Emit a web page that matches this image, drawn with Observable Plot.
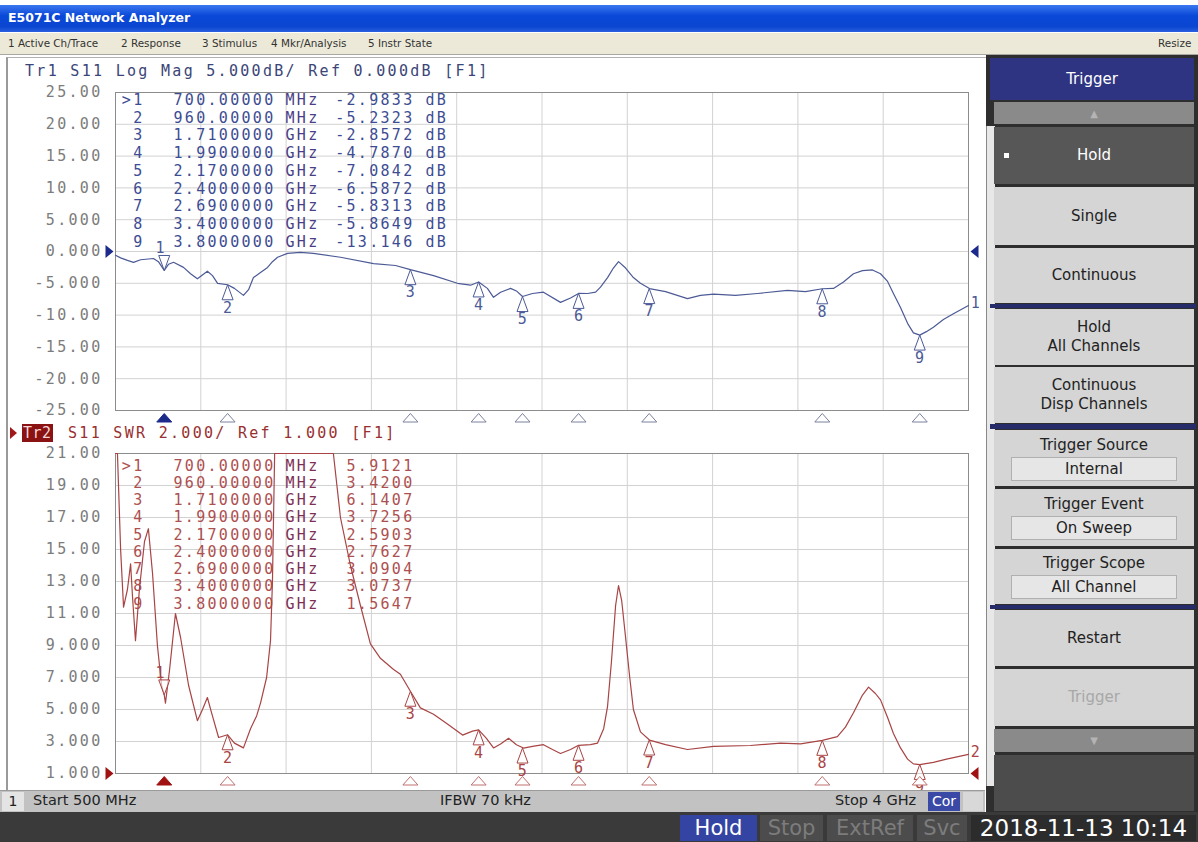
<!DOCTYPE html>
<html>
<head>
<meta charset="utf-8">
<script src="https://cdn.jsdelivr.net/npm/d3@7"></script>
<script src="https://cdn.jsdelivr.net/npm/@observablehq/plot@0.6"></script>
<style>
  html, body { margin: 0; padding: 0; }
  body { width: 1198px; height: 842px; position: relative; overflow: hidden; background: #ffffff; font-family: "DejaVu Sans", sans-serif; }
  .abs { position: absolute; }
  .mono { font-family: "DejaVu Sans Mono", monospace; font-size: 15px; letter-spacing: 2.3px; white-space: pre; }
  .menu { position: absolute; top: 37px; font-size: 10.4px; color: #333; white-space: nowrap; }
  .stat { position: absolute; top: 792px; font-size: 14.5px; color: #222; white-space: nowrap; }
  .btn { position: absolute; left: 994px; width: 200px; background: #d5d5d5; color: #222; display: flex; flex-direction: column; align-items: center; justify-content: center; font-size: 15px; line-height: 19px; text-align: center; }
  .sep { position: absolute; left: 990px; width: 206px; background: #262c6a; }
  .field { width: 164px; height: 22px; background: #e6e6e6; border: 1px solid #b0b0b0; line-height: 22px; margin-top: 2px; }
  .sb { position: absolute; top: 815px; height: 26px; line-height: 26px; font-size: 21px; text-align: center; }
</style>
</head>
<body>
<!-- window title bar -->
<div class="abs" style="left:0;top:5px;width:1198px;height:27px;background:linear-gradient(#3a78f0,#0a48d8 40%,#0a46d0 80%,#2a60e0);"></div>
<div class="abs" style="left:8px;top:10px;color:#fff;font-weight:bold;font-size:12.5px;">E5071C Network Analyzer</div>
<!-- menu bar -->
<div class="abs" style="left:0;top:33px;width:1198px;height:21px;background:#ece9d8;border-bottom:1px solid #a8a8a0;"></div>
<div class="menu" style="left:8px;">1 Active Ch/Trace</div>
<div class="menu" style="left:121px;">2 Response</div>
<div class="menu" style="left:202px;">3 Stimulus</div>
<div class="menu" style="left:271px;">4 Mkr/Analysis</div>
<div class="menu" style="left:368px;">5 Instr State</div>
<div class="menu" style="left:1158px;">Resize</div>

<!-- chart panel -->
<div class="abs" style="left:6px;top:57px;width:978px;height:733px;border-left:2px solid #9a9a9a;border-right:2px solid #6a6a6a;border-top:1px solid #b0b0b0;background:#fff;"></div>
<div class="abs mono" style="left:25px;top:62px;color:#3b4577;">Tr1 S11 Log Mag 5.000dB/ Ref 0.000dB [F1]</div>
<div class="abs" style="left:10px;top:427px;width:0;height:0;border-top:6px solid transparent;border-bottom:6px solid transparent;border-left:7px solid #a01818;"></div>
<div class="abs mono" style="left:22px;top:424px;background:#8a1212;color:#f4d8d8;padding:0 1px;letter-spacing:0.5px;">Tr2</div>
<div class="abs mono" style="left:68px;top:424px;color:#983030;">S11 SWR 2.000/ Ref 1.000 [F1]</div>
<div id="top" class="abs" style="left:0;top:82px;"></div>
<div id="bot" class="abs" style="left:0;top:445px;"></div>

<!-- status bar -->
<div class="abs" style="left:0;top:790px;width:985px;height:22px;background:#c2c2c2;border-top:1px solid #9a9a9a;"></div>
<div class="abs" style="left:2px;top:792px;width:22px;height:19px;background:#e4e4e4;font-size:14px;line-height:19px;text-align:center;color:#222;">1</div>
<div class="stat" style="left:33px;">Start 500 MHz</div>
<div class="stat" style="left:440px;">IFBW 70 kHz</div>
<div class="stat" style="left:835px;">Stop 4 GHz</div>
<div class="abs" style="left:928px;top:792px;width:32px;height:19px;background:#3a48a6;color:#fff;font-size:14px;line-height:19px;text-align:center;">Cor</div>
<div class="abs" style="left:963px;top:792px;width:20px;height:19px;background:#d8d8d8;"></div>

<!-- bottom bar -->
<div class="abs" style="left:0;top:812px;width:1198px;height:30px;background:#3a3a3a;"></div>
<div class="sb" style="left:680px;width:77px;background:#3444a2;color:#fff;">Hold</div>
<div class="sb" style="left:760px;width:63px;background:#4c4c4c;color:#7c7c7c;">Stop</div>
<div class="sb" style="left:827px;width:86px;background:#4c4c4c;color:#7c7c7c;">ExtRef</div>
<div class="sb" style="left:917px;width:50px;background:#4c4c4c;color:#7c7c7c;">Svc</div>
<div class="sb" style="left:971px;width:225px;background:#2c2c2c;color:#fff;font-size:23px;">2018-11-13 10:14</div>

<!-- right softkey panel -->
<div class="abs" style="left:986px;top:55px;width:212px;height:757px;background:#2e2e2e;"></div>
<div class="abs" style="left:986px;top:126px;width:8px;height:660px;background:#e8e8e8;border-left:1px solid #888;"></div>
<div class="btn" style="left:990px;width:204px;top:58px;height:42px;background:#2e3482;color:#fff;">Trigger</div>
<div class="btn" style="top:102px;height:22px;background:#8a8a8a;color:#b4b4b4;font-size:10px;">▲</div>
<div class="btn" style="top:127px;height:57px;background:#575757;color:#fff;">Hold</div>
<div class="abs" style="left:1004px;top:153px;width:5px;height:5px;background:#fff;"></div>
<div class="btn" style="top:187px;height:58px;">Single</div>
<div class="btn" style="top:248px;height:55px;">Continuous</div>
<div class="sep" style="top:304px;height:4px;"></div>
<div class="btn" style="top:309px;height:56px;">Hold<br>All Channels</div>
<div class="btn" style="top:367px;height:56px;">Continuous<br>Disp Channels</div>
<div class="sep" style="top:424px;height:5px;"></div>
<div class="btn" style="top:430px;height:56px;">Trigger Source<div class="field">Internal</div></div>
<div class="btn" style="top:489px;height:57px;">Trigger Event<div class="field">On Sweep</div></div>
<div class="btn" style="top:549px;height:55px;">Trigger Scope<div class="field">All Channel</div></div>
<div class="sep" style="top:605px;height:4px;"></div>
<div class="btn" style="top:610px;height:56px;">Restart</div>
<div class="btn" style="top:669px;height:57px;color:#a8a8a8;">Trigger</div>
<div class="btn" style="top:729px;height:23px;background:#8a8a8a;color:#b4b4b4;font-size:10px;">▼</div>
<div class="abs" style="left:994px;top:755px;width:200px;height:56px;background:#4c4c4c;"></div>

<script>
// ---------- data ----------
const gridFreqGHz = [0.5, 0.85, 1.2, 1.55, 1.9, 2.25, 2.6, 2.95, 3.3, 3.65, 4.0];

const topTicks = [25, 20, 15, 10, 5, 0, -5, -10, -15, -20, -25];
const topTickLabels = ["25.00", "20.00", "15.00", "10.00", "5.000", "0.000", "-5.000", "-10.00", "-15.00", "-20.00", "-25.00"];
const swrTicks = [21, 19, 17, 15, 13, 11, 9, 7, 5, 3, 1];
const swrTickLabels = ["21.00", "19.00", "17.00", "15.00", "13.00", "11.00", "9.000", "7.000", "5.000", "3.000", "1.000"];

// Trace 1: S11 Log Mag (dB)
const topFreqGHz = [0.500, 0.521, 0.549, 0.574, 0.603, 0.656, 0.676, 0.700, 0.718, 0.738, 0.779, 0.808, 0.836, 0.877, 0.898, 0.919, 0.960, 0.988, 1.025, 1.046, 1.066, 1.095, 1.124, 1.144, 1.165, 1.206, 1.259, 1.312, 1.423, 1.559, 1.649, 1.710, 1.805, 1.903, 1.957, 1.990, 2.026, 2.051, 2.080, 2.121, 2.145, 2.170, 2.211, 2.256, 2.326, 2.367, 2.400, 2.437, 2.470, 2.490, 2.519, 2.543, 2.564, 2.593, 2.625, 2.654, 2.691, 2.757, 2.847, 2.900, 2.954, 3.044, 3.134, 3.257, 3.331, 3.400, 3.446, 3.487, 3.528, 3.565, 3.606, 3.639, 3.668, 3.692, 3.721, 3.750, 3.774, 3.800, 3.827, 3.856, 3.897, 3.938, 4.000];
const topLogMagDB = [-0.6, -1.0, -1.4, -1.7, -1.3, -1.1, -1.6, -2.98, -2.0, -1.7, -2.5, -3.5, -4.3, -3.1, -3.8, -5.0, -5.23, -5.8, -6.9, -6.0, -4.1, -3.3, -2.5, -1.6, -0.9, -0.3, -0.15, -0.3, -0.9, -1.9, -2.2, -2.86, -3.8, -5.0, -5.3, -4.79, -5.8, -7.2, -6.4, -5.8, -6.2, -7.08, -6.6, -6.4, -8.0, -7.3, -6.59, -6.6, -6.4, -5.6, -4.1, -2.6, -1.6, -2.6, -4.1, -5.0, -5.83, -6.3, -7.4, -6.9, -6.7, -6.9, -6.6, -6.1, -6.3, -5.86, -5.8, -4.8, -3.5, -3.0, -2.9, -3.5, -4.7, -6.6, -8.8, -11.3, -12.8, -13.15, -12.6, -11.9, -10.7, -9.8, -8.5];

// Trace 2: S11 SWR (values at 21 are the instrument clipping at the top of the grid)
const swrFreqGHz = [0.500, 0.508, 0.521, 0.533, 0.549, 0.562, 0.570, 0.582, 0.598, 0.619, 0.635, 0.652, 0.672, 0.689, 0.700, 0.705, 0.722, 0.746, 0.767, 0.800, 0.836, 0.857, 0.877, 0.894, 0.923, 0.960, 0.988, 1.025, 1.054, 1.079, 1.095, 1.120, 1.136, 1.144, 1.153, 1.218, 1.300, 1.394, 1.423, 1.464, 1.505, 1.546, 1.587, 1.641, 1.669, 1.710, 1.751, 1.805, 1.862, 1.924, 1.965, 1.990, 2.022, 2.051, 2.080, 2.113, 2.145, 2.174, 2.211, 2.256, 2.293, 2.326, 2.367, 2.400, 2.449, 2.478, 2.503, 2.519, 2.535, 2.552, 2.564, 2.577, 2.593, 2.610, 2.625, 2.654, 2.691, 2.757, 2.847, 2.954, 3.105, 3.229, 3.311, 3.400, 3.462, 3.495, 3.528, 3.565, 3.590, 3.618, 3.639, 3.668, 3.692, 3.721, 3.750, 3.774, 3.800, 3.856, 3.910, 4.000];
const swrValues = [21, 21, 15, 11.4, 12.5, 14.1, 12, 9.3, 12.5, 15.5, 16.3, 13.5, 9, 6.5, 5.91, 5.4, 7.5, 11.0, 9.5, 6.5, 4.3, 5.0, 5.75, 4.8, 3.25, 3.42, 2.9, 2.6, 3.8, 4.6, 5.4, 7.0, 9.3, 13, 21, 21, 21, 21, 17, 14, 11.5, 9.1, 8.2, 7.5, 7.2, 6.14, 5.1, 4.7, 4.1, 3.4, 3.65, 3.73, 3.2, 2.6, 2.85, 3.2, 2.8, 2.59, 2.7, 2.8, 2.5, 2.25, 2.5, 2.76, 2.8, 2.9, 3.8, 5.2, 8.0, 11.5, 12.75, 11.8, 9.5, 7.0, 5.0, 3.6, 3.09, 2.8, 2.5, 2.7, 2.75, 2.9, 2.85, 3.07, 3.3, 3.9, 4.8, 5.9, 6.4, 6.0, 5.6, 4.5, 3.5, 2.6, 1.9, 1.6, 1.56, 1.7, 1.9, 2.2];

// Markers
const markerNum = [1, 2, 3, 4, 5, 6, 7, 8, 9];
const markerFreqGHz = [0.70, 0.96, 1.71, 1.99, 2.17, 2.40, 2.69, 3.40, 3.80];
const markerIdText = [">1", "2", "3", "4", "5", "6", "7", "8", "9"];
const markerFreqText = ["700.00000", "960.00000", "1.7100000", "1.9900000", "2.1700000", "2.4000000", "2.6900000", "3.4000000", "3.8000000"];
const markerUnit = ["MHz", "MHz", "GHz", "GHz", "GHz", "GHz", "GHz", "GHz", "GHz"];
const markerLogMagDB = [-2.9833, -5.2323, -2.8572, -4.7870, -7.0842, -6.5872, -5.8313, -5.8649, -13.146];
const markerLogMagText = ["-2.9833", "-5.2323", "-2.8572", "-4.7870", "-7.0842", "-6.5872", "-5.8313", "-5.8649", "-13.146"];
const markerSWR = [5.9121, 3.4200, 6.1407, 3.7256, 2.5903, 2.7627, 3.0904, 3.0737, 1.5647];
const markerSWRText = ["5.9121", "3.4200", "6.1407", "3.7256", "2.5903", "2.7627", "3.0904", "3.0737", "1.5647"];

// ---------- symbols ----------
const triUp = {draw(c) { c.moveTo(0, 0); c.lineTo(-5.5, 15); c.lineTo(5.5, 15); c.closePath(); }};
const triDown = {draw(c) { c.moveTo(0, 0); c.lineTo(-5.5, -15); c.lineTo(5.5, -15); c.closePath(); }};
const stimTri = {draw(c) { c.moveTo(0, 0); c.lineTo(-7.5, 8.5); c.lineTo(7.5, 8.5); c.closePath(); }};
const refRight = {draw(c) { c.moveTo(0, 0); c.lineTo(-8, -6.5); c.lineTo(-8, 6.5); c.closePath(); }};
const refLeft = {draw(c) { c.moveTo(0, 0); c.lineTo(8, -6.5); c.lineTo(8, 6.5); c.closePath(); }};

const svgStyle = {fontFamily: "DejaVu Sans Mono, monospace", fontSize: "15px", letterSpacing: "2.3px", color: "#7c7c7c", background: "transparent", overflow: "visible"};

function buildChart(cfg) {
  const trace = cfg.freq.map((f, i) => ({f, v: cfg.vals[i]}));
  const markers = markerNum.map((n, i) => ({n, f: markerFreqGHz[i], v: cfg.mVals[i]}));
  const others = markers.slice(1);
  const first = markers.slice(0, 1);
  const last = trace.slice(-1);
  const lh = cfg.lineHeight;
  const col = (arr) => arr.join("\n");
  return Plot.plot({
    width: 985, height: cfg.height,
    marginLeft: 115, marginRight: 17, marginTop: cfg.mt, marginBottom: cfg.mb,
    style: svgStyle,
    x: {domain: [0.5, 4.0], axis: null},
    y: {domain: cfg.domain, ticks: cfg.ticks, tickFormat: d => cfg.tickLabels[cfg.ticks.indexOf(d)], tickSize: 0, tickPadding: 13, label: null},
    marks: [
      Plot.ruleX(gridFreqGHz, {stroke: "#d2d2d2"}),
      Plot.ruleY(cfg.ticks, {stroke: "#d2d2d2"}),
      Plot.frame({stroke: "#8c8c8c"}),
      // marker table
      Plot.text([col(markerIdText)], {frameAnchor: "top-left", dx: 29, dy: cfg.tableDy, lineAnchor: "top", textAnchor: "end", lineHeight: lh, fill: cfg.tableColor}),
      Plot.text([col(markerFreqText)], {frameAnchor: "top-left", dx: 160, dy: cfg.tableDy, lineAnchor: "top", textAnchor: "end", lineHeight: lh, fill: cfg.tableColor}),
      Plot.text([col(markerUnit)], {frameAnchor: "top-left", dx: 170, dy: cfg.tableDy, lineAnchor: "top", textAnchor: "start", lineHeight: lh, fill: cfg.unitColor}),
      Plot.text([col(cfg.valText)], {frameAnchor: "top-left", dx: 299, dy: cfg.tableDy, lineAnchor: "top", textAnchor: "end", lineHeight: lh, fill: cfg.tableColor}),
      ...(cfg.dbText ? [Plot.text([col(markerNum.map(() => "dB"))], {frameAnchor: "top-left", dx: 310, dy: cfg.tableDy, lineAnchor: "top", textAnchor: "start", lineHeight: lh, fill: cfg.tableColor})] : []),
      // trace
      Plot.line(trace, {x: "f", y: "v", stroke: cfg.color, strokeWidth: 1.2}),
      // markers on trace
      Plot.dot(others, {x: "f", y: "v", symbol: triUp, stroke: cfg.color, fill: "white", fillOpacity: 0.6, strokeWidth: 1}),
      Plot.text(others, {x: "f", y: "v", text: "n", dy: 23, fill: cfg.color, textAnchor: "middle", dx: 1}),
      Plot.dot(first, {x: "f", y: "v", symbol: triDown, stroke: cfg.color, fill: "white", fillOpacity: 0.6, strokeWidth: 1}),
      Plot.text(first, {x: "f", y: "v", text: "n", dy: -22, dx: -3, fill: cfg.color, textAnchor: "middle"}),
      // stimulus markers under the grid
      Plot.dot(others, {x: "f", frameAnchor: "bottom", dy: 3, symbol: stimTri, stroke: cfg.stimColor, fill: "white", strokeWidth: 1}),
      Plot.dot(first, {x: "f", frameAnchor: "bottom", dy: 3, symbol: stimTri, stroke: cfg.activeColor, fill: cfg.activeColor, strokeWidth: 1}),
      // reference level arrows
      Plot.dot([cfg.ref], {y: d => d, frameAnchor: "left", dx: -2, symbol: refRight, fill: cfg.activeColor, stroke: "none"}),
      Plot.dot([cfg.ref], {y: d => d, frameAnchor: "right", dx: 2, symbol: refLeft, fill: cfg.activeColor, stroke: "none"}),
      // trace number at right edge
      Plot.text(last, {x: "f", y: "v", text: () => cfg.traceNo, dx: 8, dy: -2, fill: cfg.color, textAnchor: "middle"})
    ]
  });
}

document.getElementById("top").appendChild(buildChart({
  height: 350, mt: 10, mb: 22,
  domain: [-25, 25], ticks: topTicks, tickLabels: topTickLabels,
  freq: topFreqGHz, vals: topLogMagDB, mVals: markerLogMagDB,
  valText: markerLogMagText, dbText: true,
  color: "#4c5a96", tableColor: "#3d4c92", unitColor: "#4a3f86", stimColor: "#7a809c", activeColor: "#1c2a8c",
  lineHeight: 1.18, tableDy: 0, ref: 0, traceNo: "1"
}));

document.getElementById("bot").appendChild(buildChart({
  height: 345, mt: 8, mb: 17,
  domain: [1, 21], ticks: swrTicks, tickLabels: swrTickLabels,
  freq: swrFreqGHz, vals: swrValues, mVals: markerSWR,
  valText: markerSWRText, dbText: false,
  color: "#a84444", tableColor: "#ad5050", unitColor: "#7e3054", stimColor: "#c07070", activeColor: "#a01212",
  lineHeight: 1.15, tableDy: 5, ref: 1, traceNo: "2"
}));
</script>
</body>
</html>
